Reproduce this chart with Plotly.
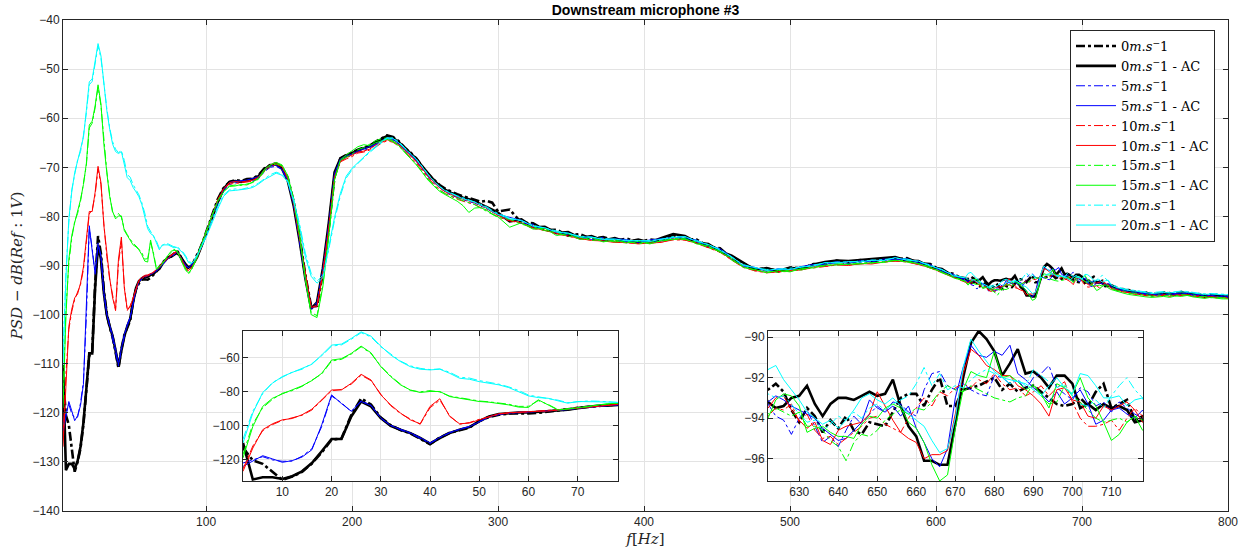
import plotly.graph_objects as go

# ---------------- frequency sampling (Hz) ----------------
freq = (list(range(2, 100, 2)) + list(range(100, 301, 4)) + list(range(308, 621, 8))
        + list(range(622, 719, 2)) + list(range(720, 801, 4)))

# ---------------- series values (dB) ----------------
# 0 m/s
s0 = ([-113.0, -120.5, -122.5, -127.0, -132.0, -130.0, -127.2, -122.3, -115.8, -108.3,
       -107.6, -93.8, -84.0, -87.6, -95.2, -99.8, -102.6, -104.6, -107.6, -110.9,
       -107.0, -104.2, -102.7, -101.2, -97.3, -94.9, -93.6, -92.9, -92.8, -92.9,
       -92.5, -91.9, -91.2, -90.4, -89.5, -88.9, -88.5, -88.0, -87.6, -87.0,
       -87.8, -89.2, -90.0, -90.6, -90.2, -89.0, -87.9, -86.5, -85.0]
      + [-83.3, -80.0, -76.5, -74.2, -73.0, -72.6, -72.8, -72.4, -72.3, -71.6,
         -70.2, -69.5, -69.2, -70.0, -72.2, -77.0, -84.0, -92.0, -98.4, -98.2,
         -91.5, -82.5, -71.8, -68.2, -67.5, -67.0, -66.4, -66.0, -65.6, -64.8,
         -64.2, -63.5, -63.8, -64.7, -66.0, -67.0, -68.2, -69.8, -71.4, -72.5,
         -73.6, -74.4, -75.0, -75.5, -75.9, -76.3, -76.6, -77.0, -76.8, -77.2, -79.0]
      + [-78.6, -81.3, -81.4, -82.8, -82.7, -83.9, -83.6, -84.6, -84.2, -85.0,
         -84.5, -85.3, -84.7, -85.0, -83.8, -84.6, -84.7, -86.1, -86.5, -88.6,
         -89.6, -90.8, -90.6, -91.1, -90.4, -90.6, -89.7, -89.8, -89.0, -89.6,
         -88.9, -89.3, -88.6, -88.8, -88.5, -89.5, -89.7, -91.2, -91.7, -93.1]
      + [-92.6, -92.3, -92.7, -93.6, -94.2, -93.5, -93.9, -94.7, -94.1, -94.5,
         -93.9, -94.6, -94.8, -94.2, -94.3, -94.4, -93.7, -93.0, -92.8, -92.8,
         -93.4, -92.6, -92.0, -93.4, -93.4, -92.6, -92.5, -92.4, -92.2, -92.0,
         -92.6, -92.3, -92.7, -92.5, -92.4, -92.7, -93.0, -93.3, -93.4, -93.3,
         -93.0, -93.4, -92.7, -92.3, -93.5, -93.3, -93.1, -94.1, -93.9]
      + [-94.0, -94.6, -95.1, -95.0, -95.6, -95.4, -95.9, -95.6, -96.0, -95.5,
         -96.1, -95.6, -95.9, -95.5, -96.0, -95.8, -96.4, -95.9, -96.3, -96.1, -96.4])

s0_ac = ([-110.2, -131.7, -130.4, -130.4, -131.4, -129.8, -126.9, -122.0, -115.1, -107.9,
          -107.9, -94.6, -85.8, -88.7, -95.6, -100.1, -102.4, -104.4, -107.3, -110.6,
          -107.3, -104.4, -102.4, -100.9, -97.5, -94.6, -93.2, -92.6, -92.3, -92.3,
          -91.9, -91.7, -91.1, -90.7, -89.7, -89.1, -88.3, -88.2, -87.8, -87.4,
          -88.0, -88.9, -89.8, -90.4, -90.0, -89.3, -88.2, -86.7, -85.2]
         + [-83.6, -80.4, -77.1, -74.4, -73.0, -72.8, -73.0, -72.6, -72.4, -71.8,
            -70.4, -69.6, -69.4, -70.3, -72.8, -77.8, -84.8, -92.6, -98.8, -97.5,
            -90.6, -81.5, -71.0, -68.2, -67.6, -67.1, -66.5, -66.1, -65.7, -65.0,
            -64.3, -63.6, -64.0, -64.9, -66.0, -67.1, -68.3, -69.8, -71.3, -72.6,
            -73.8, -74.6, -75.2, -75.7, -76.2, -76.5, -76.9, -77.5, -78.0, -78.6, -79.3]
         + [-81.0, -80.6, -82.2, -82.1, -83.4, -83.2, -84.4, -84.0, -84.9, -84.4,
            -85.2, -84.7, -85.3, -84.4, -83.6, -84.0, -85.3, -85.6, -87.1, -88.0,
            -89.4, -90.9, -90.5, -91.2, -90.5, -90.6, -89.8, -89.3, -89.0, -89.1,
            -88.9, -88.7, -88.6, -88.3, -89.0, -89.1, -90.3, -90.7, -92.2, -92.6]
         + [-93.2, -93.5, -93.4, -93.0, -92.9, -92.4, -93.3, -93.9, -93.3, -93.0,
            -93.0, -93.1, -92.9, -92.7, -92.9, -92.8, -92.1, -93.4, -94.4, -94.9,
            -96.1, -96.1, -96.3, -96.3, -94.3, -92.0, -90.3, -89.7, -90.1, -90.7,
            -91.9, -91.3, -90.6, -91.8, -91.7, -92.0, -92.5, -91.9, -91.9, -92.3,
            -93.5, -93.3, -93.6, -93.3, -93.5, -93.4, -93.6, -94.2, -94.1]
         + [-94.2, -94.9, -94.8, -95.4, -95.3, -95.8, -95.5, -96.1, -95.7, -95.9,
            -95.6, -96.0, -95.4, -95.8, -95.7, -96.2, -96.0, -96.3, -96.0, -96.4, -96.2])

# 5 m/s
s5 = ([-122.0, -120.0, -118.3, -120.2, -121.0, -120.9, -118.0, -113.6, -100.5, -82.6,
       -86.5, -91.8, -85.4, -88.0, -95.8, -99.7, -102.5, -104.6, -107.4, -110.5,
       -107.1, -104.3, -102.0, -100.5, -97.6, -95.0, -93.5, -92.7, -92.4, -92.1,
       -91.8, -91.4, -91.2, -90.5, -89.9, -89.0, -88.6, -88.3, -87.9, -87.1,
       -87.9, -89.1, -90.1, -90.4, -90.1, -89.1, -88.1, -86.8, -84.9]
      + [-83.8, -80.6, -77.3, -74.9, -73.5, -73.2, -72.7, -72.9, -72.8, -72.3,
         -70.9, -70.0, -69.8, -70.5, -72.9, -77.7, -84.9, -92.7, -98.3, -97.6,
         -90.8, -81.8, -71.6, -68.6, -68.1, -67.4, -66.9, -66.6, -66.1, -65.4,
         -64.7, -64.1, -64.5, -65.3, -66.5, -67.6, -68.8, -70.3, -71.9, -73.1,
         -74.2, -75.1, -75.7, -76.2, -76.6, -77.0, -77.3, -77.9, -78.4, -79.1, -79.8]
      + [-80.7, -81.4, -81.6, -82.9, -83.3, -83.8, -84.3, -84.7, -84.3, -85.1,
         -85.1, -84.9, -85.3, -85.0, -84.4, -84.1, -85.2, -86.1, -86.6, -88.7,
         -90.1, -90.4, -91.2, -90.7, -90.9, -90.2, -90.2, -89.4, -89.6, -89.2,
         -89.4, -88.9, -89.1, -88.4, -89.0, -89.1, -90.2, -90.8, -92.2, -92.7]
      + [-93.3, -93.9, -94.1, -94.8, -94.0, -93.6, -94.4, -95.2, -94.9, -95.4,
         -94.6, -93.9, -94.3, -93.8, -93.4, -93.7, -93.2, -93.3, -93.7, -93.9,
         -92.6, -91.8, -91.7, -92.4, -92.6, -92.3, -92.6, -92.8, -92.9, -91.9,
         -92.0, -92.3, -92.1, -92.6, -92.0, -91.8, -91.4, -92.5, -92.8, -93.1,
         -92.5, -92.7, -93.4, -93.2, -93.7, -93.2, -93.5, -93.8, -94.0]
      + [-94.5, -94.7, -95.2, -95.2, -95.7, -95.5, -96.0, -95.8, -96.1, -95.7,
         -96.0, -95.9, -95.8, -95.8, -96.1, -96.1, -96.3, -96.2, -96.4, -96.3, -96.5])

s5_ac = ([-124.0, -121.0, -117.7, -119.6, -121.6, -120.6, -118.5, -114.2, -99.5, -81.9,
          -87.0, -91.5, -85.8, -88.2, -95.4, -100.0, -102.2, -104.2, -107.0, -110.2,
          -106.9, -104.0, -102.3, -100.7, -97.8, -94.8, -93.3, -92.6, -92.1, -92.0,
          -91.7, -91.5, -91.0, -90.6, -89.8, -89.3, -88.5, -88.1, -87.7, -87.3,
          -88.1, -89.0, -89.9, -90.5, -89.9, -89.2, -88.0, -86.6, -85.1]
         + [-83.4, -80.1, -76.8, -74.5, -73.1, -72.8, -72.8, -72.6, -72.3, -71.9,
            -70.5, -69.7, -69.6, -70.4, -72.6, -77.6, -84.6, -92.4, -98.9, -98.0,
            -91.2, -82.2, -71.3, -68.3, -67.7, -67.3, -66.7, -66.2, -65.8, -65.3,
            -64.6, -64.0, -64.3, -65.1, -66.3, -67.4, -68.6, -70.1, -71.7, -72.9,
            -74.1, -74.9, -75.5, -76.0, -76.4, -76.8, -77.1, -77.7, -78.2, -79.0, -79.6]
         + [-80.2, -80.8, -82.1, -82.3, -83.3, -83.4, -84.3, -84.2, -84.8, -84.6,
            -84.7, -85.3, -84.8, -84.6, -84.3, -84.5, -84.8, -86.1, -86.6, -88.2,
            -90.1, -90.4, -91.1, -90.7, -90.9, -90.2, -89.8, -89.8, -89.2, -89.6,
            -89.0, -89.3, -88.7, -88.8, -88.6, -89.5, -89.8, -91.2, -91.8, -93.1]
         + [-93.2, -92.9, -93.1, -93.4, -93.6, -93.8, -94.0, -94.5, -94.8, -95.1,
            -95.0, -94.6, -94.2, -93.1, -93.5, -93.7, -93.4, -93.9, -93.4, -94.5,
            -95.2, -96.0, -96.4, -95.5, -93.0, -91.5, -90.4, -90.9, -91.0, -90.7,
            -90.9, -90.4, -91.8, -92.1, -92.5, -92.8, -93.2, -92.7, -93.3, -93.0,
            -92.6, -93.3, -94.3, -94.1, -93.6, -93.5, -93.8, -94.0, -93.6]
         + [-94.3, -95.0, -94.9, -95.5, -95.4, -95.8, -95.7, -96.0, -95.8, -96.0,
            -95.8, -95.7, -95.8, -95.6, -96.0, -95.9, -96.3, -96.0, -96.3, -96.2, -96.3])

# 10 m/s
s10 = ([-125.5, -112.0, -103.0, -99.4, -96.9, -95.4, -93.9, -90.8, -85.2, -79.5,
        -78.7, -75.6, -70.3, -73.5, -81.5, -88.2, -92.9, -96.2, -99.2, -89.5,
        -85.0, -94.2, -99.2, -98.2, -96.3, -94.9, -93.2, -92.6, -92.2, -92.1,
        -91.8, -91.3, -90.9, -90.2, -89.4, -88.9, -88.2, -87.9, -87.4, -87.0,
        -88.2, -89.5, -90.6, -91.2, -90.6, -89.6, -88.1, -86.7, -84.8]
       + [-83.2, -79.9, -76.6, -74.3, -73.4, -73.3, -73.2, -73.0, -72.8, -72.2,
          -70.8, -69.9, -69.4, -69.9, -72.3, -77.3, -84.3, -92.1, -98.5, -98.1,
          -91.4, -82.4, -71.9, -68.9, -68.3, -67.8, -67.1, -66.9, -66.5, -65.9,
          -65.1, -64.6, -64.9, -65.7, -66.8, -67.9, -69.1, -70.6, -72.2, -73.4,
          -74.6, -75.4, -76.0, -76.5, -76.9, -77.3, -77.6, -78.2, -78.7, -79.5, -80.1]
       + [-80.9, -81.4, -82.5, -82.8, -83.6, -84.0, -84.6, -84.8, -85.1, -85.3,
          -85.4, -85.5, -85.5, -85.2, -84.8, -84.8, -85.5, -86.4, -87.3, -88.9,
          -90.4, -91.1, -91.5, -91.3, -91.2, -90.8, -90.5, -90.1, -89.9, -89.9,
          -89.7, -89.6, -89.4, -89.1, -89.3, -89.8, -90.5, -91.5, -92.5, -93.4]
       + [-93.9, -93.5, -93.6, -93.3, -94.2, -93.8, -94.6, -95.0, -94.9, -95.3,
          -95.0, -94.7, -94.4, -94.0, -93.9, -94.3, -94.5, -94.7, -94.0, -93.5,
          -93.0, -93.4, -92.7, -92.9, -92.5, -92.3, -92.5, -92.1, -92.3, -91.8,
          -92.3, -92.6, -92.5, -92.9, -92.7, -92.4, -92.9, -92.5, -92.2, -93.2,
          -94.0, -94.4, -94.4, -94.3, -94.1, -94.6, -94.0, -93.5, -93.9]
       + [-94.7, -95.1, -95.3, -95.6, -95.8, -96.0, -96.1, -96.2, -96.1, -96.1,
          -96.2, -96.0, -96.0, -96.0, -96.2, -96.3, -96.5, -96.4, -96.5, -96.6, -96.6])

s10_ac = ([-126.9, -113.2, -102.4, -98.9, -96.6, -95.8, -93.6, -90.3, -84.8, -79.0,
           -79.0, -75.1, -69.8, -73.1, -81.9, -87.8, -92.6, -96.6, -98.9, -88.7,
           -84.2, -94.6, -98.9, -98.5, -96.6, -94.6, -93.0, -92.4, -92.0, -91.9,
           -91.6, -91.4, -90.8, -90.4, -89.6, -89.0, -88.4, -88.0, -87.6, -87.2,
           -88.0, -89.3, -90.4, -91.0, -90.4, -89.4, -88.3, -86.9, -85.0]
          + [-83.3, -80.1, -76.7, -74.4, -73.1, -72.9, -73.0, -72.8, -72.6, -72.0,
             -70.5, -69.5, -69.1, -69.8, -72.2, -77.2, -84.2, -92.0, -98.5, -98.4,
             -91.7, -82.8, -72.3, -68.8, -68.0, -67.5, -66.9, -66.7, -66.3, -65.5,
             -64.9, -64.4, -64.7, -65.4, -66.5, -67.6, -68.8, -70.2, -71.8, -73.0,
             -74.2, -75.0, -75.6, -76.1, -76.5, -76.9, -77.2, -77.8, -78.3, -79.1, -79.8]
          + [-80.8, -81.3, -82.3, -82.9, -83.5, -84.0, -84.5, -84.9, -85.0, -85.3,
             -85.3, -85.6, -85.4, -85.3, -84.6, -84.8, -85.4, -86.3, -87.2, -88.8,
             -90.3, -91.0, -91.4, -91.3, -91.0, -90.9, -90.3, -90.2, -89.8, -90.0,
             -89.6, -89.7, -89.3, -89.1, -89.2, -89.8, -90.4, -91.4, -92.4, -93.3]
          + [-93.5, -93.0, -92.9, -93.6, -94.1, -94.5, -94.2, -95.1, -95.3, -94.6,
             -94.4, -94.3, -94.2, -93.8, -92.7, -93.4, -94.1, -94.7, -95.0, -95.2,
             -96.0, -95.8, -95.8, -95.6, -93.8, -91.8, -90.6, -90.9, -91.4, -91.6,
             -91.9, -91.9, -92.4, -92.6, -92.9, -93.3, -93.9, -92.6, -92.5, -93.1,
             -93.2, -93.9, -94.0, -93.4, -93.6, -93.4, -93.2, -93.6, -94.2]
          + [-94.6, -94.9, -95.4, -95.5, -95.9, -95.8, -96.2, -96.0, -96.3, -95.9,
             -96.3, -96.0, -96.1, -95.9, -96.3, -96.2, -96.6, -96.3, -96.6, -96.5, -96.7])

# 15 m/s
s15 = ([-117.0, -99.0, -89.5, -84.5, -81.0, -79.4, -76.9, -73.2, -69.6, -62.0,
        -61.0, -57.9, -53.6, -57.5, -65.0, -70.8, -75.6, -79.3, -80.1, -79.4,
        -80.2, -82.6, -83.7, -84.5, -85.5, -86.0, -86.6, -87.4, -88.7, -88.6,
        -85.3, -87.5, -90.6, -90.1, -89.4, -88.9, -88.0, -87.3, -86.7, -87.1,
        -88.0, -89.6, -90.8, -91.7, -91.0, -89.4, -88.1, -86.4, -84.7]
       + [-83.0, -79.8, -76.8, -74.9, -73.8, -73.6, -73.7, -73.4, -73.1, -72.4,
          -70.7, -69.8, -69.3, -69.7, -71.9, -76.8, -83.8, -92.6, -99.6, -100.2,
          -94.0, -84.0, -72.5, -68.6, -67.9, -67.3, -66.4, -66.0, -65.3, -64.6,
          -64.2, -64.0, -64.6, -65.6, -66.9, -68.1, -69.4, -70.9, -72.4, -73.6,
          -74.7, -75.4, -75.9, -76.4, -76.8, -77.2, -77.6, -78.3, -78.9, -79.6, -80.2]
       + [-80.6, -81.6, -82.1, -82.9, -83.2, -84.1, -84.2, -84.9, -84.7, -85.2,
          -85.0, -85.6, -85.2, -85.1, -84.5, -84.7, -85.2, -86.4, -87.0, -88.9,
          -90.2, -91.0, -91.1, -91.4, -90.9, -90.9, -90.2, -90.1, -89.6, -89.8,
          -89.5, -89.5, -89.2, -89.0, -89.0, -89.7, -90.2, -91.5, -92.2, -93.3]
       + [-93.8, -93.5, -93.7, -93.9, -93.7, -94.4, -94.4, -94.6, -95.1, -95.4,
          -96.1, -95.2, -94.8, -94.9, -94.6, -94.1, -93.8, -93.6, -93.8, -93.5,
          -93.6, -93.2, -92.7, -92.4, -92.6, -92.7, -92.4, -92.6, -92.8, -93.0,
          -93.1, -93.2, -93.0, -92.9, -92.3, -92.9, -93.3, -93.2, -92.4, -92.9,
          -93.2, -93.6, -94.0, -94.2, -94.1, -94.0, -94.2, -93.9, -94.1]
       + [-94.4, -95.2, -95.1, -95.7, -95.6, -96.0, -95.9, -96.3, -96.0, -96.2,
          -96.0, -96.2, -95.9, -96.1, -96.0, -96.4, -96.3, -96.6, -96.4, -96.6, -96.5])

s15_ac = ([-119.0, -100.5, -88.7, -83.9, -81.3, -79.0, -76.6, -73.5, -69.2, -61.4,
           -60.6, -57.5, -53.2, -57.1, -65.3, -71.1, -76.0, -79.0, -80.5, -79.9,
           -79.9, -82.9, -83.9, -84.8, -85.8, -86.2, -86.8, -87.8, -89.1, -89.3,
           -84.8, -87.8, -90.8, -90.3, -89.7, -88.7, -87.9, -87.1, -86.9, -87.0,
           -88.3, -89.8, -91.0, -91.5, -90.8, -89.6, -88.3, -86.6, -84.9]
          + [-83.1, -79.9, -76.9, -75.0, -73.9, -73.8, -73.5, -73.6, -73.0, -72.2,
             -70.4, -69.5, -69.0, -69.5, -71.7, -76.5, -83.5, -92.8, -100.0, -100.6,
             -94.3, -84.2, -72.6, -68.5, -67.5, -66.6, -65.8, -65.4, -65.6, -65.0,
             -64.6, -64.3, -64.8, -65.6, -66.9, -68.1, -69.5, -71.0, -72.6, -73.8,
             -74.9, -75.6, -76.3, -76.9, -77.8, -79.2, -78.3, -78.2, -78.7, -79.5, -80.1]
          + [-82.2, -81.3, -82.6, -82.4, -83.9, -83.5, -84.7, -84.3, -85.2, -84.8,
             -85.4, -85.1, -85.6, -84.9, -84.7, -84.5, -85.6, -86.0, -87.3, -88.5,
             -90.4, -90.8, -91.5, -91.0, -91.3, -90.6, -90.5, -89.9, -89.9, -89.7,
             -89.7, -89.4, -89.4, -88.9, -89.3, -89.6, -90.5, -91.3, -92.5, -93.2]
          + [-94.0, -93.1, -92.8, -92.9, -93.4, -94.7, -94.5, -94.4, -94.7, -94.9,
             -94.9, -95.0, -94.3, -93.9, -94.0, -93.5, -93.3, -93.5, -94.2, -94.5,
             -95.2, -96.3, -97.1, -96.8, -94.5, -92.6, -91.7, -91.9, -92.0, -90.7,
             -92.0, -91.9, -92.2, -92.6, -92.4, -92.8, -93.5, -92.3, -92.5, -92.8,
             -92.0, -93.0, -93.4, -94.2, -95.1, -94.8, -94.2, -93.9, -94.6]
          + [-94.9, -95.3, -95.6, -95.9, -96.1, -96.3, -96.4, -96.5, -96.4, -96.3,
             -96.5, -96.2, -96.3, -96.1, -96.4, -96.5, -96.7, -96.5, -96.7, -96.8, -96.8])

# 20 m/s
s20 = ([-108.0, -91.5, -81.2, -74.6, -71.5, -68.5, -66.8, -63.5, -58.9, -53.2,
        -52.5, -49.2, -45.3, -47.8, -53.6, -58.0, -62.0, -64.8, -66.3, -67.0,
        -66.6, -68.6, -71.5, -72.0, -73.5, -74.5, -75.6, -77.2, -79.3, -82.0,
        -83.2, -84.1, -85.0, -86.5, -86.0, -85.5, -85.6, -85.9, -86.2, -86.1,
        -86.6, -87.2, -88.0, -89.2, -89.4, -88.8, -87.8, -86.6, -85.3]
       + [-84.0, -80.8, -78.0, -75.6, -74.6, -74.4, -74.5, -74.2, -73.9, -73.2,
          -72.3, -71.5, -71.0, -71.4, -72.8, -76.5, -81.5, -87.5, -91.6, -93.2,
          -92.0, -86.8, -80.8, -75.8, -72.2, -70.5, -69.2, -68.0, -67.0, -66.0,
          -65.0, -64.1, -64.0, -64.8, -66.0, -67.1, -68.3, -69.8, -71.4, -72.7,
          -73.9, -74.7, -75.3, -75.8, -76.2, -76.6, -77.0, -77.5, -78.0, -78.8, -79.4]
       + [-80.3, -80.9, -81.8, -82.4, -83.0, -83.5, -84.0, -84.3, -84.5, -84.7,
          -84.8, -85.0, -84.9, -84.7, -84.1, -84.2, -84.9, -85.8, -86.7, -88.3,
          -89.8, -90.5, -90.8, -90.8, -90.6, -90.3, -89.9, -89.5, -89.3, -89.3,
          -89.1, -89.0, -88.8, -88.5, -88.7, -89.2, -89.9, -90.9, -91.9, -92.6]
       + [-92.8, -93.0, -92.9, -93.3, -93.8, -94.2, -94.1, -94.6, -94.3, -93.9,
          -94.1, -93.7, -94.0, -93.5, -93.3, -93.6, -93.3, -93.1, -92.9, -92.3,
          -91.5, -92.4, -91.8, -92.6, -92.4, -92.5, -92.1, -91.8, -91.6, -91.8,
          -92.0, -92.3, -92.1, -92.4, -91.6, -91.9, -92.2, -92.5, -92.3, -92.9,
          -93.3, -93.4, -93.1, -93.5, -92.9, -92.4, -92.0, -92.6, -93.0]
       + [-93.8, -94.3, -94.7, -94.9, -95.1, -95.2, -95.4, -95.5, -95.4, -95.3,
          -95.5, -95.3, -95.2, -95.3, -95.5, -95.6, -95.8, -95.7, -95.8, -95.9, -95.9])

s20_ac = ([-110.2, -92.6, -80.5, -75.0, -71.1, -68.8, -66.5, -63.9, -58.4, -52.6,
           -52.0, -48.7, -44.8, -47.3, -53.2, -58.4, -62.3, -65.3, -66.8, -67.2,
           -66.8, -69.2, -72.1, -72.7, -74.1, -75.0, -76.0, -77.6, -79.9, -82.5,
           -83.5, -83.9, -85.4, -86.8, -85.8, -85.8, -85.8, -86.1, -86.4, -86.3,
           -86.8, -87.4, -88.3, -89.4, -89.6, -89.0, -88.0, -86.9, -85.5]
          + [-84.3, -81.2, -78.5, -75.9, -74.8, -74.7, -74.6, -74.4, -74.1, -73.4,
             -72.5, -71.8, -71.2, -71.6, -73.0, -76.9, -82.0, -88.2, -92.2, -93.6,
             -92.5, -86.3, -80.2, -75.3, -71.8, -70.2, -69.0, -67.8, -66.8, -65.8,
             -64.8, -64.0, -64.1, -65.0, -66.2, -67.2, -68.4, -69.9, -71.5, -72.8,
             -74.0, -74.8, -75.4, -75.9, -76.4, -76.8, -77.1, -77.7, -78.2, -79.0, -79.6]
          + [-80.5, -80.8, -82.0, -82.3, -83.2, -83.4, -84.2, -84.2, -84.7, -84.6,
             -85.0, -84.9, -85.1, -84.6, -84.3, -84.1, -85.1, -85.7, -86.9, -88.2,
             -90.0, -90.4, -91.0, -90.7, -90.8, -90.3, -90.1, -89.4, -89.5, -89.2,
             -89.3, -88.9, -89.0, -88.4, -88.9, -89.1, -90.1, -90.8, -92.1, -92.5]
          + [-91.6, -91.4, -92.1, -92.6, -93.1, -93.7, -94.0, -94.3, -94.1, -94.5,
             -94.1, -93.6, -93.0, -92.8, -93.1, -93.3, -93.0, -93.4, -93.8, -94.1,
             -94.4, -95.1, -95.7, -95.5, -94.0, -91.5, -90.1, -90.7, -91.2, -91.7,
             -92.0, -92.1, -92.2, -92.3, -92.6, -92.9, -92.4, -92.0, -92.5, -92.8,
             -91.8, -91.9, -92.4, -93.0, -93.0, -92.9, -93.4, -93.1, -93.0]
          + [-94.0, -94.5, -94.8, -95.1, -95.2, -95.4, -95.5, -95.7, -95.6, -95.5,
             -95.6, -95.4, -95.4, -95.4, -95.6, -95.7, -95.9, -95.8, -95.9, -96.0, -96.0])

# ---------------- series styling / labels ----------------
speeds = ["0", "5", "10", "15", "20"]
colors = ["#000000", "#0000ff", "#ff0000", "#00ff00", "#00ffff"]
series = [(s0, s0_ac), (s5, s5_ac), (s10, s10_ac), (s15, s15_ac), (s20, s20_ac)]

for i, (a, b) in enumerate(series):
    if len(a) != len(freq) or len(b) != len(freq):
        raise ValueError(f"length mismatch speed {speeds[i]}: {len(a)} {len(b)} vs {len(freq)}")

fig = go.Figure()

SERIF = "DejaVu Serif"
SANS = "Liberation Sans"
AXC = "#262626"
GRID = "#e3e3e3"


def label(sp, ac):
    t = sp + "<i>m</i>.<i>s</i><sup>−</sup>1"
    return t + " - AC" if ac else t


axes_sets = [("x", "y"), ("x2", "y2"), ("x3", "y3")]
for k, (xa, ya) in enumerate(axes_sets):
    for i, (a, b) in enumerate(series):
        w = 2.6 if i == 0 else 1.0
        for ac, vals in ((False, a), (True, b)):
            fig.add_trace(go.Scatter(
                x=freq, y=vals, mode="lines", xaxis=xa, yaxis=ya,
                name=label(speeds[i], ac), showlegend=(k == 0),
                line=dict(color=colors[i], width=w,
                          dash="solid" if ac else "dashdot"),
                hoverinfo="skip"))

common_ax = dict(showline=True, linecolor=AXC, linewidth=1, mirror="allticks",
                 ticks="inside", ticklen=5, tickcolor=AXC, showgrid=True,
                 gridcolor=GRID, gridwidth=1, zeroline=False,
                 tickfont=dict(family=SANS, size=12, color=AXC))

# main plot area in window px: x 63..1228, y 20..511
W, H = 1252, 558
L, R, T, B = 63, 24, 20, 47
pw, ph = W - L - R, H - T - B


def dx(px):
    return (px - L) / pw


def dy(py):
    return (H - B - py) / ph


fig.update_layout(
    width=W, height=H,
    margin=dict(l=L, r=R, t=T, b=B, autoexpand=False),
    paper_bgcolor="white", plot_bgcolor="white",
    hovermode=False,
    title=dict(text="<b>Downstream microphone #3</b>", x=0.5, xref="paper",
               y=1 - 10 / H, yanchor="middle", xanchor="center",
               font=dict(family=SANS, size=14, color="#000000")),
    xaxis=dict(common_ax, range=[2, 800], tickvals=list(range(100, 801, 100)),
               domain=[0, 1],
               title=dict(text="<i>f</i>[<i>Hz</i>]", standoff=5,
                          font=dict(family=SERIF, size=15, color=AXC))),
    yaxis=dict(common_ax, range=[-140, -40], tickvals=list(range(-140, -39, 10)),
               domain=[0, 1],
               title=dict(text="<i>PSD</i> − <i>dB</i>(<i>Ref</i> : 1<i>V</i>)", standoff=6,
                          font=dict(family=SERIF, size=15, color=AXC))),
    xaxis2=dict(common_ax, range=[2, 78.2], tickvals=list(range(10, 71, 10)),
                domain=[dx(243), dx(618)], anchor="y2"),
    yaxis2=dict(common_ax, range=[-132.6, -44.3], tickvals=[-120, -100, -80, -60],
                domain=[dy(481), dy(331)], anchor="x2"),
    xaxis3=dict(common_ax, range=[622, 718.1], tickvals=list(range(630, 711, 10)),
                domain=[dx(768), dx(1143)], anchor="y3"),
    yaxis3=dict(common_ax, range=[-97.1, -89.7], tickvals=[-96, -94, -92, -90],
                domain=[dy(481), dy(331)], anchor="x3"),
    legend=dict(x=dx(1215), y=dy(30), xanchor="right", yanchor="top",
                bgcolor="white", bordercolor=AXC, borderwidth=1,
                font=dict(family=SERIF, size=13, color="#000000"),
                tracegroupgap=0, itemwidth=40),
    showlegend=True,
)

# remove the browser's default 8 px page margin so the figure sits at (0, 0)
fig.write_html("out.html",
               config={"displayModeBar": False},
               post_script="document.body.style.margin='0';document.body.style.overflow='hidden';")
